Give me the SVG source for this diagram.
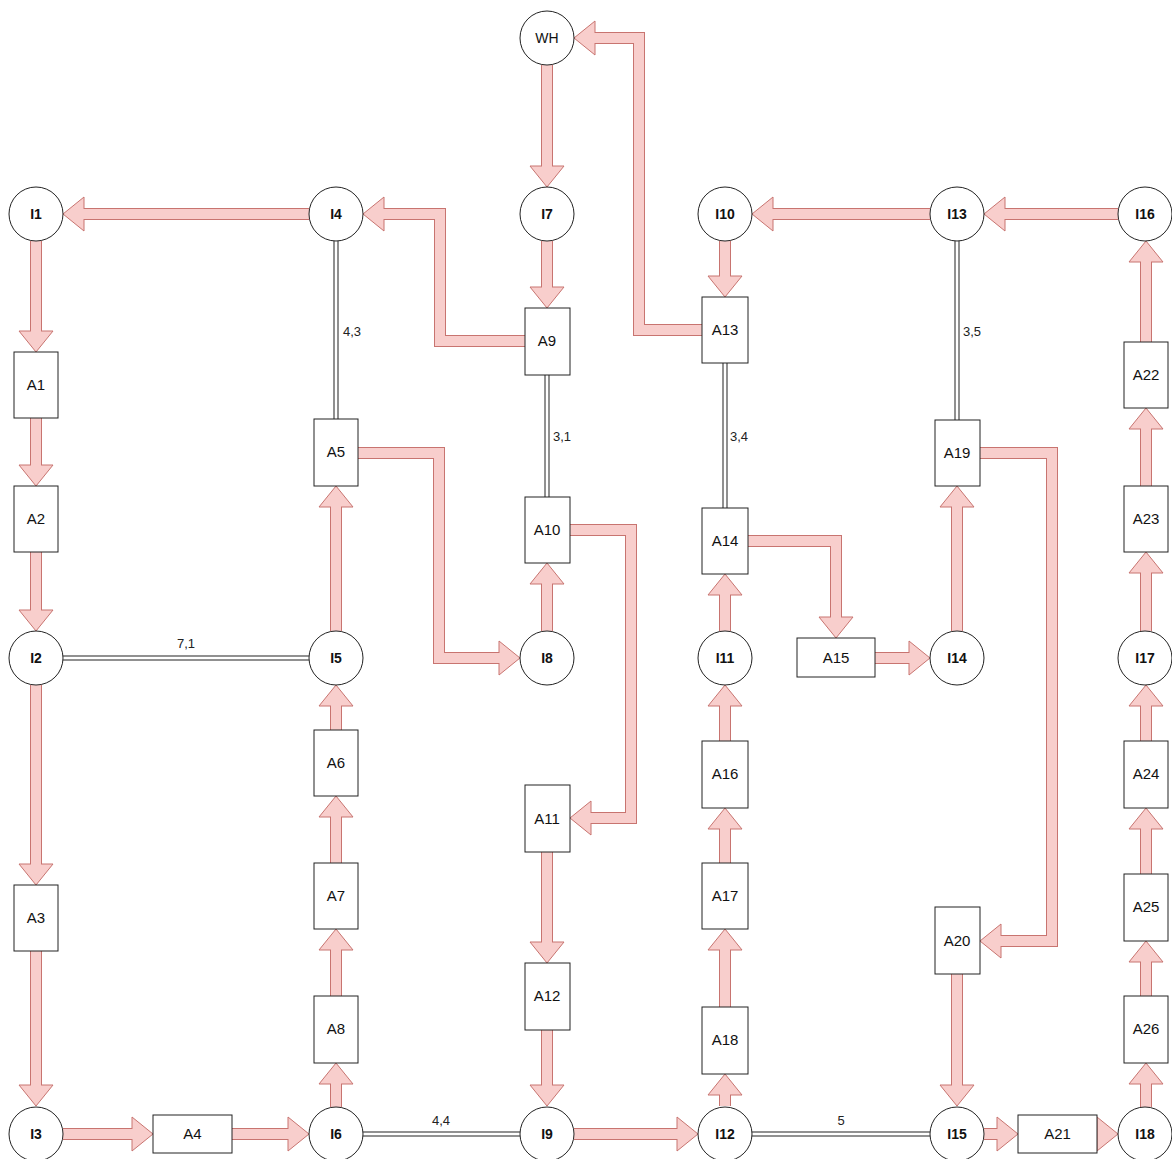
<svg xmlns="http://www.w3.org/2000/svg" width="1172" height="1159" viewBox="0 0 1172 1159">
<style>
  .bg{fill:#ffffff}
  .o{fill:none;stroke:#c87470;stroke-width:12;stroke-linejoin:miter;stroke-linecap:butt}
  .f{fill:none;stroke:#f8cecc;stroke-width:10;stroke-linejoin:miter;stroke-linecap:butt}
  .h{fill:#f8cecc;stroke:#c87470;stroke-width:1;stroke-linejoin:miter}
  .lo{fill:none;stroke:#222;stroke-width:5}
  .li{fill:none;stroke:#fff;stroke-width:3}
  .c{fill:#fff;stroke:#222;stroke-width:1}
  .b{fill:#fff;stroke:#222;stroke-width:1}
  .ct{font-family:"Liberation Sans",Arial,sans-serif;font-size:14px;font-weight:bold;fill:#111;text-anchor:middle}
  .wt{font-family:"Liberation Sans",Arial,sans-serif;font-size:14px;fill:#111;text-anchor:middle}
  .bt{font-family:"Liberation Sans",Arial,sans-serif;font-size:15px;fill:#111;text-anchor:middle}
  .lt{font-family:"Liberation Sans",Arial,sans-serif;font-size:13px;fill:#222;text-anchor:middle}
</style>
<rect class="bg" x="0" y="0" width="1172" height="1159"/>
<g id="connectors">
  <g id="link-I4-A5"><path class="lo" d="M336 241 V419"/><path class="li" d="M336 241 V419"/><text class="lt" x="352" y="336">4,3</text></g>
  <g id="link-I2-I5"><path class="lo" d="M63 658 H309"/><path class="li" d="M63 658 H309"/><text class="lt" x="186" y="648">7,1</text></g>
  <g id="link-A9-A10"><path class="lo" d="M547 375 V497"/><path class="li" d="M547 375 V497"/><text class="lt" x="562" y="441">3,1</text></g>
  <g id="link-A13-A14"><path class="lo" d="M725 363 V508"/><path class="li" d="M725 363 V508"/><text class="lt" x="739" y="441">3,4</text></g>
  <g id="link-I13-A19"><path class="lo" d="M957 241 V420"/><path class="li" d="M957 241 V420"/><text class="lt" x="972" y="336">3,5</text></g>
  <g id="link-I6-I9"><path class="lo" d="M363 1134 H520"/><path class="li" d="M363 1134 H520"/><text class="lt" x="441" y="1125">4,4</text></g>
  <g id="link-I12-I15"><path class="lo" d="M752 1134 H930"/><path class="li" d="M752 1134 H930"/><text class="lt" x="841" y="1125">5</text></g>

  <g><path class="o" d="M309 214 H84"/><path class="h" d="M84 197 L63 214 L84 231 Z"/><path class="f" d="M309 214 H82.5"/></g>
  <g><path class="o" d="M36 241 V331"/><path class="h" d="M19 331 L36 352 L53 331 Z"/><path class="f" d="M36 241 V332.5"/></g>
  <g><path class="o" d="M36 418 V465"/><path class="h" d="M19 465 L36 486 L53 465 Z"/><path class="f" d="M36 418 V466.5"/></g>
  <g><path class="o" d="M36 552 V610"/><path class="h" d="M19 610 L36 631 L53 610 Z"/><path class="f" d="M36 552 V611.5"/></g>
  <g><path class="o" d="M36 685 V864"/><path class="h" d="M19 864 L36 885 L53 864 Z"/><path class="f" d="M36 685 V865.5"/></g>
  <g><path class="o" d="M36 951 V1085"/><path class="h" d="M19 1085 L36 1106 L53 1085 Z"/><path class="f" d="M36 951 V1086.5"/></g>
  <g><path class="o" d="M63 1134 H132"/><path class="h" d="M132 1117 L153 1134 L132 1151 Z"/><path class="f" d="M63 1134 H133.5"/></g>
  <g><path class="o" d="M232 1134 H288"/><path class="h" d="M288 1117 L309 1134 L288 1151 Z"/><path class="f" d="M232 1134 H289.5"/></g>
  <g><path class="o" d="M336 1107 V1084"/><path class="h" d="M319 1084 L336 1063 L353 1084 Z"/><path class="f" d="M336 1107 V1082.5"/></g>
  <g><path class="o" d="M336 996 V950"/><path class="h" d="M319 950 L336 929 L353 950 Z"/><path class="f" d="M336 996 V948.5"/></g>
  <g><path class="o" d="M336 863 V817"/><path class="h" d="M319 817 L336 796 L353 817 Z"/><path class="f" d="M336 863 V815.5"/></g>
  <g><path class="o" d="M336 730 V706"/><path class="h" d="M319 706 L336 685 L353 706 Z"/><path class="f" d="M336 730 V704.5"/></g>
  <g><path class="o" d="M336 631 V507"/><path class="h" d="M319 507 L336 486 L353 507 Z"/><path class="f" d="M336 631 V505.5"/></g>
  <g><path class="o" d="M358 453 H439 V658 H499"/><path class="h" d="M499 641 L520 658 L499 675 Z"/><path class="f" d="M358 453 H439 V658 H500.5"/></g>
  <g><path class="o" d="M547 631 V584"/><path class="h" d="M530 584 L547 563 L564 584 Z"/><path class="f" d="M547 631 V582.5"/></g>
  <g><path class="o" d="M525 341 H440 V214 H384"/><path class="h" d="M384 197 L363 214 L384 231 Z"/><path class="f" d="M525 341 H440 V214 H382.5"/></g>
  <g><path class="o" d="M547 65 V166"/><path class="h" d="M530 166 L547 187 L564 166 Z"/><path class="f" d="M547 65 V167.5"/></g>
  <g><path class="o" d="M547 241 V287"/><path class="h" d="M530 287 L547 308 L564 287 Z"/><path class="f" d="M547 241 V288.5"/></g>
  <g><path class="o" d="M702 330 H639 V38 H595"/><path class="h" d="M595 21 L574 38 L595 55 Z"/><path class="f" d="M702 330 H639 V38 H593.5"/></g>
  <g><path class="o" d="M570 530 H631 V818 H591"/><path class="h" d="M591 801 L570 818 L591 835 Z"/><path class="f" d="M570 530 H631 V818 H589.5"/></g>
  <g><path class="o" d="M547 852 V942"/><path class="h" d="M530 942 L547 963 L564 942 Z"/><path class="f" d="M547 852 V943.5"/></g>
  <g><path class="o" d="M547 1030 V1085"/><path class="h" d="M530 1085 L547 1106 L564 1085 Z"/><path class="f" d="M547 1030 V1086.5"/></g>
  <g><path class="o" d="M574 1134 H677"/><path class="h" d="M677 1117 L698 1134 L677 1151 Z"/><path class="f" d="M574 1134 H678.5"/></g>
  <g><path class="o" d="M725 1106 V1095"/><path class="h" d="M708 1095 L725 1074 L742 1095 Z"/><path class="f" d="M725 1106 V1093.5"/></g>
  <g><path class="o" d="M725 1007 V950"/><path class="h" d="M708 950 L725 929 L742 950 Z"/><path class="f" d="M725 1007 V948.5"/></g>
  <g><path class="o" d="M725 863 V829"/><path class="h" d="M708 829 L725 808 L742 829 Z"/><path class="f" d="M725 863 V827.5"/></g>
  <g><path class="o" d="M725 741 V706"/><path class="h" d="M708 706 L725 685 L742 706 Z"/><path class="f" d="M725 741 V704.5"/></g>
  <g><path class="o" d="M725 631 V595"/><path class="h" d="M708 595 L725 574 L742 595 Z"/><path class="f" d="M725 631 V593.5"/></g>
  <g><path class="o" d="M748 541 H836 V617"/><path class="h" d="M819 617 L836 638 L853 617 Z"/><path class="f" d="M748 541 H836 V618.5"/></g>
  <g><path class="o" d="M875 658 H909"/><path class="h" d="M909 641 L930 658 L909 675 Z"/><path class="f" d="M875 658 H910.5"/></g>
  <g><path class="o" d="M957 631 V507"/><path class="h" d="M940 507 L957 486 L974 507 Z"/><path class="f" d="M957 631 V505.5"/></g>
  <g><path class="o" d="M980 453 H1052 V941 H1001"/><path class="h" d="M1001 924 L980 941 L1001 958 Z"/><path class="f" d="M980 453 H1052 V941 H999.5"/></g>
  <g><path class="o" d="M725 241 V276"/><path class="h" d="M708 276 L725 297 L742 276 Z"/><path class="f" d="M725 241 V277.5"/></g>
  <g><path class="o" d="M930 214 H773"/><path class="h" d="M773 197 L752 214 L773 231 Z"/><path class="f" d="M930 214 H771.5"/></g>
  <g><path class="o" d="M1118 214 H1005"/><path class="h" d="M1005 197 L984 214 L1005 231 Z"/><path class="f" d="M1118 214 H1003.5"/></g>
  <g><path class="o" d="M957 974 V1085"/><path class="h" d="M940 1085 L957 1106 L974 1085 Z"/><path class="f" d="M957 974 V1086.5"/></g>
  <g><path class="o" d="M984 1134 H997"/><path class="h" d="M997 1117 L1018 1134 L997 1151 Z"/><path class="f" d="M984 1134 H998.5"/></g>
  <g><path class="h" d="M1097 1117 L1118 1134 L1097 1151 Z"/></g>
  <g><path class="o" d="M1146 1107 V1084"/><path class="h" d="M1129 1084 L1146 1063 L1163 1084 Z"/><path class="f" d="M1146 1107 V1082.5"/></g>
  <g><path class="o" d="M1146 996 V962"/><path class="h" d="M1129 962 L1146 941 L1163 962 Z"/><path class="f" d="M1146 996 V960.5"/></g>
  <g><path class="o" d="M1146 874 V829"/><path class="h" d="M1129 829 L1146 808 L1163 829 Z"/><path class="f" d="M1146 874 V827.5"/></g>
  <g><path class="o" d="M1146 741 V706"/><path class="h" d="M1129 706 L1146 685 L1163 706 Z"/><path class="f" d="M1146 741 V704.5"/></g>
  <g><path class="o" d="M1146 631 V573"/><path class="h" d="M1129 573 L1146 552 L1163 573 Z"/><path class="f" d="M1146 631 V571.5"/></g>
  <g><path class="o" d="M1146 486 V429"/><path class="h" d="M1129 429 L1146 408 L1163 429 Z"/><path class="f" d="M1146 486 V427.5"/></g>
  <g><path class="o" d="M1146 342 V262"/><path class="h" d="M1129 262 L1146 241 L1163 262 Z"/><path class="f" d="M1146 342 V260.5"/></g>
</g>

<g id="WH"><circle class="c" cx="547" cy="38" r="27"/><text class="wt" x="547" y="43">WH</text></g>
<g id="I1"><circle class="c" cx="36" cy="214" r="27"/><text class="ct" x="36" y="219">I1</text></g>
<g id="I4"><circle class="c" cx="336" cy="214" r="27"/><text class="ct" x="336" y="219">I4</text></g>
<g id="I7"><circle class="c" cx="547" cy="214" r="27"/><text class="ct" x="547" y="219">I7</text></g>
<g id="I10"><circle class="c" cx="725" cy="214" r="27"/><text class="ct" x="725" y="219">I10</text></g>
<g id="I13"><circle class="c" cx="957" cy="214" r="27"/><text class="ct" x="957" y="219">I13</text></g>
<g id="I16"><circle class="c" cx="1145" cy="214" r="27"/><text class="ct" x="1145" y="219">I16</text></g>
<g id="I2"><circle class="c" cx="36" cy="658" r="27"/><text class="ct" x="36" y="663">I2</text></g>
<g id="I5"><circle class="c" cx="336" cy="658" r="27"/><text class="ct" x="336" y="663">I5</text></g>
<g id="I8"><circle class="c" cx="547" cy="658" r="27"/><text class="ct" x="547" y="663">I8</text></g>
<g id="I11"><circle class="c" cx="725" cy="658" r="27"/><text class="ct" x="725" y="663">I11</text></g>
<g id="I14"><circle class="c" cx="957" cy="658" r="27"/><text class="ct" x="957" y="663">I14</text></g>
<g id="I17"><circle class="c" cx="1145" cy="658" r="27"/><text class="ct" x="1145" y="663">I17</text></g>
<g id="I3"><circle class="c" cx="36" cy="1134" r="27"/><text class="ct" x="36" y="1139">I3</text></g>
<g id="I6"><circle class="c" cx="336" cy="1134" r="27"/><text class="ct" x="336" y="1139">I6</text></g>
<g id="I9"><circle class="c" cx="547" cy="1134" r="27"/><text class="ct" x="547" y="1139">I9</text></g>
<g id="I12"><circle class="c" cx="725" cy="1134" r="27"/><text class="ct" x="725" y="1139">I12</text></g>
<g id="I15"><circle class="c" cx="957" cy="1134" r="27"/><text class="ct" x="957" y="1139">I15</text></g>
<g id="I18"><circle class="c" cx="1145" cy="1134" r="27"/><text class="ct" x="1145" y="1139">I18</text></g>

<g id="A1"><rect class="b" x="14" y="352" width="44" height="66"/><text class="bt" x="36" y="390">A1</text></g>
<g id="A2"><rect class="b" x="14" y="486" width="44" height="66"/><text class="bt" x="36" y="524">A2</text></g>
<g id="A3"><rect class="b" x="14" y="885" width="44" height="66"/><text class="bt" x="36" y="923">A3</text></g>
<g id="A4"><rect class="b" x="153" y="1115" width="79" height="38"/><text class="bt" x="192.5" y="1139">A4</text></g>
<g id="A5"><rect class="b" x="314" y="419" width="44" height="67"/><text class="bt" x="336" y="457">A5</text></g>
<g id="A6"><rect class="b" x="314" y="730" width="44" height="66"/><text class="bt" x="336" y="768">A6</text></g>
<g id="A7"><rect class="b" x="314" y="863" width="44" height="66"/><text class="bt" x="336" y="901">A7</text></g>
<g id="A8"><rect class="b" x="314" y="996" width="44" height="67"/><text class="bt" x="336" y="1034">A8</text></g>
<g id="A9"><rect class="b" x="525" y="308" width="45" height="67"/><text class="bt" x="547" y="346">A9</text></g>
<g id="A10"><rect class="b" x="525" y="497" width="45" height="66"/><text class="bt" x="547" y="535">A10</text></g>
<g id="A11"><rect class="b" x="525" y="785" width="45" height="67"/><text class="bt" x="547" y="824">A11</text></g>
<g id="A12"><rect class="b" x="525" y="963" width="45" height="67"/><text class="bt" x="547" y="1001">A12</text></g>
<g id="A13"><rect class="b" x="702" y="297" width="46" height="66"/><text class="bt" x="725" y="335">A13</text></g>
<g id="A14"><rect class="b" x="702" y="508" width="46" height="66"/><text class="bt" x="725" y="546">A14</text></g>
<g id="A15"><rect class="b" x="797" y="638" width="78" height="39"/><text class="bt" x="836" y="663">A15</text></g>
<g id="A16"><rect class="b" x="702" y="741" width="46" height="67"/><text class="bt" x="725" y="779">A16</text></g>
<g id="A17"><rect class="b" x="702" y="863" width="46" height="66"/><text class="bt" x="725" y="901">A17</text></g>
<g id="A18"><rect class="b" x="702" y="1007" width="46" height="67"/><text class="bt" x="725" y="1045">A18</text></g>
<g id="A19"><rect class="b" x="935" y="420" width="45" height="66"/><text class="bt" x="957" y="458">A19</text></g>
<g id="A20"><rect class="b" x="935" y="907" width="45" height="67"/><text class="bt" x="957" y="946">A20</text></g>
<g id="A21"><rect class="b" x="1018" y="1115" width="79" height="38"/><text class="bt" x="1057.5" y="1139">A21</text></g>
<g id="A22"><rect class="b" x="1124" y="342" width="44" height="66"/><text class="bt" x="1146" y="380">A22</text></g>
<g id="A23"><rect class="b" x="1124" y="486" width="44" height="66"/><text class="bt" x="1146" y="524">A23</text></g>
<g id="A24"><rect class="b" x="1124" y="741" width="44" height="67"/><text class="bt" x="1146" y="779">A24</text></g>
<g id="A25"><rect class="b" x="1124" y="874" width="44" height="67"/><text class="bt" x="1146" y="912">A25</text></g>
<g id="A26"><rect class="b" x="1124" y="996" width="44" height="67"/><text class="bt" x="1146" y="1034">A26</text></g>
</svg>
